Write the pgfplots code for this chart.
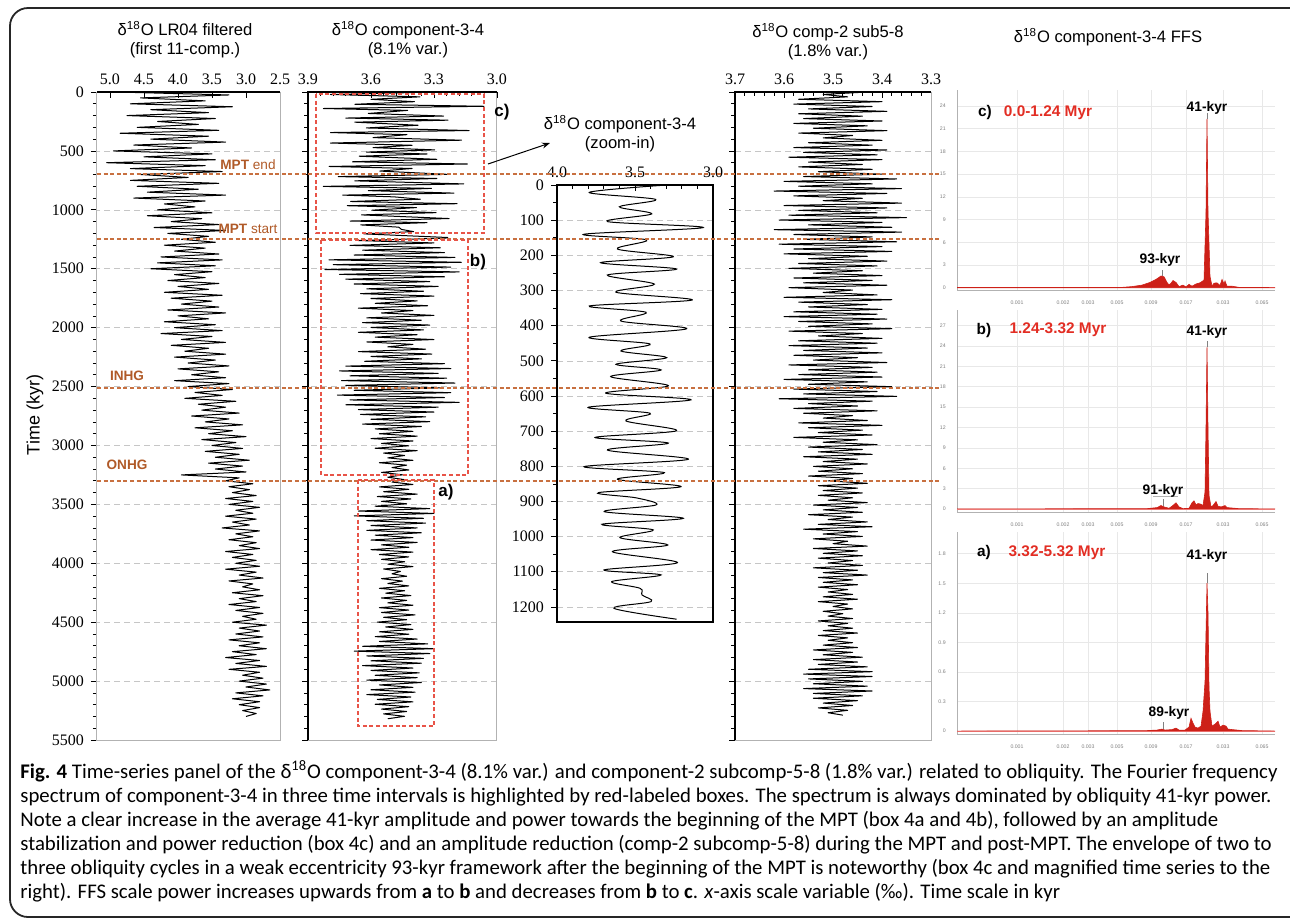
\documentclass[border=0pt]{standalone}
\usepackage{pgfplots}
\pgfplotsset{compat=1.18}
\usepackage{pgfplotstable}
\usetikzlibrary{arrows.meta}
\usepackage{fontspec}
\setmainfont{Liberation Sans}
\newfontfamily\seriffont{Liberation Serif}
\newfontfamily\capfont{Carlito}
\definecolor{mptc}{RGB}{200,112,64}
\definecolor{mpttxt}{RGB}{176,90,40}
\definecolor{boxred}{RGB}{232,84,72}
\definecolor{specred}{RGB}{205,32,24}
\definecolor{labred}{RGB}{226,45,35}

% LR04 filtered, step 25 kyr from 0
\pgfplotstableread[row sep=\\,header=false]{
4.90\\3.25\\4.55\\3.60\\4.70\\3.20\\4.40\\3.55\\
4.75\\3.45\\4.30\\3.70\\4.60\\3.40\\4.85\\3.55\\
4.40\\3.30\\4.65\\3.80\\4.95\\3.50\\4.50\\3.45\\
5.05\\3.60\\4.70\\3.35\\4.55\\3.85\\4.70\\3.40\\
4.60\\3.70\\4.45\\3.30\\4.65\\3.60\\4.20\\3.75\\
4.30\\3.50\\4.45\\3.65\\4.10\\3.40\\4.35\\3.30\\
4.15\\3.55\\3.95\\3.45\\4.20\\3.60\\4.05\\3.40\\
4.25\\3.35\\4.30\\3.45\\4.40\\3.50\\4.05\\3.60\\
4.15\\3.40\\4.00\\3.55\\4.20\\3.35\\4.10\\3.50\\
3.95\\3.40\\4.15\\3.30\\4.00\\3.55\\4.20\\3.45\\
4.05\\3.35\\4.25\\3.50\\3.95\\3.30\\4.10\\3.55\\
3.90\\3.30\\4.05\\3.45\\3.85\\3.25\\4.00\\3.40\\
3.80\\3.30\\4.05\\3.25\\3.85\\3.20\\3.75\\3.35\\
3.90\\3.15\\3.70\\3.30\\3.65\\3.10\\3.80\\3.25\\
3.60\\3.05\\3.75\\3.20\\3.55\\3.00\\3.65\\3.15\\
3.50\\3.05\\3.60\\3.10\\3.45\\2.95\\3.55\\3.05\\
3.45\\3.00\\3.95\\3.10\\3.30\\2.90\\3.25\\2.95\\
3.20\\2.85\\3.30\\2.90\\3.25\\2.80\\3.15\\2.90\\
3.30\\2.85\\3.20\\2.95\\3.35\\2.80\\3.15\\2.90\\
3.25\\2.85\\3.10\\2.80\\3.30\\2.90\\3.20\\2.85\\
3.15\\2.80\\3.30\\2.85\\3.10\\2.75\\3.25\\2.90\\
3.05\\2.80\\3.20\\2.75\\3.10\\2.85\\3.25\\2.80\\
3.15\\2.75\\3.05\\2.85\\3.20\\2.70\\3.10\\2.80\\
3.15\\2.75\\3.25\\2.80\\3.10\\2.70\\3.20\\2.85\\
3.30\\2.80\\3.15\\2.70\\3.25\\2.80\\3.05\\2.75\\
3.10\\2.70\\3.00\\2.65\\3.15\\2.75\\3.20\\2.80\\
3.10\\2.80\\3.05\\2.85\\3.00\\
}\lrtab

% component-3-4, step 20.5 kyr from 1240
\pgfplotstableread[row sep=\\,header=false]{
3.24\\3.66\\3.30\\3.70\\3.27\\3.64\\3.25\\3.68\\
3.20\\3.80\\3.17\\3.78\\3.22\\3.82\\3.18\\3.75\\3.25\\3.72\\
3.32\\3.68\\3.28\\3.62\\3.35\\3.65\\3.30\\3.60\\3.38\\3.58\\3.33\\3.66\\3.40\\3.55\\3.30\\3.62\\3.36\\3.64\\3.32\\3.60\\3.35\\3.66\\
3.38\\3.58\\3.30\\3.62\\3.40\\3.52\\3.34\\3.66\\3.31\\3.60\\3.36\\3.63\\
3.25\\3.72\\3.22\\3.75\\3.28\\3.70\\3.24\\3.74\\3.20\\3.72\\3.26\\3.68\\3.22\\3.76\\3.25\\3.70\\3.18\\3.72\\3.28\\3.66\\
3.30\\3.65\\3.34\\3.60\\3.32\\3.64\\3.36\\3.58\\3.40\\3.56\\
3.38\\3.60\\3.40\\3.55\\3.42\\3.58\\3.38\\3.54\\3.44\\3.52\\3.40\\3.56\\3.43\\3.50\\3.42\\3.55\\3.45\\3.52\\3.44\\3.50\\
3.40\\3.56\\3.42\\3.54\\3.38\\3.57\\3.41\\3.55\\3.43\\3.58\\
3.32\\3.66\\3.30\\3.68\\3.35\\3.62\\3.34\\3.60\\3.38\\3.62\\
3.36\\3.58\\3.40\\3.60\\3.38\\3.55\\3.42\\3.60\\3.40\\3.56\\
3.42\\3.55\\3.44\\3.52\\3.40\\3.54\\3.46\\3.50\\3.43\\3.55\\3.45\\3.52\\3.42\\3.56\\3.44\\3.53\\3.41\\3.55\\3.43\\3.52\\
3.40\\3.56\\3.42\\3.55\\3.39\\3.54\\3.43\\3.57\\3.41\\3.53\\3.40\\3.56\\3.42\\3.58\\3.38\\3.56\\
3.33\\3.64\\3.30\\3.68\\3.32\\3.62\\3.35\\3.60\\3.36\\3.64\\
3.40\\3.60\\3.37\\3.58\\3.38\\3.62\\3.36\\3.56\\3.40\\3.60\\3.39\\3.62\\3.41\\3.57\\3.40\\3.58\\3.42\\3.55\\3.43\\3.54\\3.44\\3.52\\
}\cbtab

% comp-2 sub5-8, step 20.5 kyr from 0
\pgfplotstableread[row sep=\\,header=false]{
3.43\\3.52\\3.47\\3.57\\3.40\\3.58\\3.42\\3.55\\3.39\\3.57\\3.44\\3.56\\3.40\\3.58\\3.43\\3.54\\3.39\\3.57\\3.46\\3.52\\3.40\\3.55\\3.42\\3.58\\
3.39\\3.56\\3.41\\3.59\\3.40\\3.55\\3.44\\3.57\\3.42\\3.53\\3.40\\3.56\\
3.37\\3.60\\3.42\\3.57\\3.36\\3.62\\3.39\\3.58\\3.44\\3.52\\3.36\\3.60\\3.39\\3.57\\3.41\\3.59\\3.35\\3.61\\3.40\\3.55\\3.38\\3.62\\3.36\\3.58\\3.42\\3.56\\3.37\\3.61\\
3.40\\3.58\\3.38\\3.60\\3.43\\3.55\\3.39\\3.57\\3.41\\3.59\\3.44\\3.54\\3.40\\3.58\\3.42\\3.56\\3.39\\3.59\\3.46\\3.52\\3.41\\3.60\\3.38\\3.57\\3.43\\3.55\\3.40\\3.58\\3.41\\3.60\\3.39\\3.57\\3.42\\3.55\\3.38\\3.59\\
3.44\\3.53\\3.40\\3.57\\3.41\\3.59\\3.43\\3.56\\3.40\\3.58\\3.45\\3.54\\3.39\\3.59\\3.42\\3.55\\3.41\\3.57\\3.40\\3.60\\3.43\\3.55\\3.38\\3.58\\3.41\\3.56\\3.37\\3.61\\
3.42\\3.55\\3.45\\3.58\\3.41\\3.56\\3.46\\3.52\\3.43\\3.57\\3.40\\3.55\\3.44\\3.53\\3.42\\3.58\\3.45\\3.52\\3.41\\3.55\\3.44\\3.53\\3.42\\3.56\\
3.45\\3.52\\3.43\\3.54\\3.46\\3.53\\3.44\\3.55\\3.46\\3.51\\3.43\\3.53\\3.45\\3.52\\
3.44\\3.53\\3.46\\3.51\\3.43\\3.54\\3.45\\3.52\\3.44\\3.55\\3.46\\3.51\\3.43\\3.53\\3.42\\3.56\\3.45\\3.52\\3.44\\3.54\\3.47\\3.50\\3.43\\3.54\\3.45\\3.52\\3.44\\3.53\\3.46\\3.51\\3.44\\3.54\\3.45\\3.52\\3.43\\3.53\\
3.46\\3.52\\3.45\\3.53\\3.47\\3.51\\3.46\\3.52\\3.45\\3.53\\3.47\\3.50\\3.46\\3.52\\3.48\\3.51\\3.46\\3.53\\3.47\\3.51\\3.46\\3.52\\3.45\\3.53\\3.47\\3.51\\3.46\\3.52\\3.45\\3.54\\3.46\\3.52\\3.44\\3.54\\3.45\\3.53\\3.43\\3.55\\3.42\\3.56\\
3.42\\3.55\\3.44\\3.54\\3.43\\3.56\\3.42\\3.54\\3.44\\
3.54\\3.45\\3.52\\3.46\\3.53\\3.47\\3.51\\3.48\\
}\cctab

\def\zoomdata{(3.297,0)(3.793,21)(3.367,41)(3.600,62)(3.393,82)(3.677,104)(3.062,121)(3.827,140)(3.425,156)(3.613,182)(3.254,204)(3.720,221)(3.233,239)(3.677,256)(3.376,282)(3.622,305)(3.133,327)(3.793,344)(3.429,362)(3.590,387)(3.169,409)(3.793,433)(3.404,452)(3.590,472)(3.297,491)(3.622,510)(3.333,526)(3.656,545)(3.286,571)(3.688,592)(3.141,611)(3.799,632)(3.404,649)(3.558,671)(3.233,699)(3.756,718)(3.286,734)(3.677,754)(3.158,780)(3.827,801)(3.312,818)(3.613,837)(3.205,858)(3.735,875)(3.490,890)(3.365,910)(3.697,929)(3.190,948)(3.713,965)(3.383,981)(3.596,1003)(3.290,1024)(3.645,1043)(3.228,1074)(3.699,1095)(3.333,1109)(3.649,1128)(3.468,1147)(3.455,1166)(3.397,1185)(3.635,1204)(3.233,1235)}

\pgfplotsset{
  ts/.style={scale only axis, anchor=north west, height=324pt,
    y dir=reverse, x dir=reverse, ymin=0, ymax=5500,
    ytick={0,500,...,5500}, minor y tick num=4, ytick pos=left,
    xtick pos=right, xticklabel pos=right,
    ymajorgrids, major grid style={densely dashed, gray!45, line width=0.3pt},
    axis line style={gray!60, line width=0.5pt},
    tick style={black, line width=0.35pt},
    major tick length=3pt, minor tick length=2pt,
    xtick align=inside, ytick align=outside,
    every tick label/.append style={font=\seriffont\fontsize{8}{9}\selectfont},
    /pgf/number format/assume math mode=true,
    /pgf/number format/1000 sep={},
    xticklabel style={/pgf/number format/.cd, fixed, fixed zerofill, precision=1},
  },
  spec/.style={scale only axis, anchor=north west, width=159pt,
    xmin=0, xmax=318, axis lines=left, axis line style={gray!60, -, line width=0.4pt},
    xtick={60,106,131,160,194,229,266,305},
    xticklabels={0.001,0.002,0.003,0.005,0.009,0.017,0.033,0.065},
    grid=major, major grid style={gray!18, line width=0.3pt},
    tick style={draw=none},
    tick label style={font=\fontsize{2.6}{3}\selectfont, text=gray},
    /pgf/number format/assume math mode=true,
    yticklabel style={/pgf/number format/fixed},
  },
}

\begin{document}
\begin{tikzpicture}
\useasboundingbox (0pt,0pt) rectangle (645pt,-461.5pt);
\draw[line width=0.9pt, black!85, rounded corners=9pt] (5pt,-4pt) rectangle (655pt,-458.5pt);

% Panel 1: LR04 filtered
\begin{axis}[ts, width=91.5pt, at={(48.5pt,-46pt)}, xmin=2.5, xmax=5.191,
  xtick={2.5,3.0,...,5.0}]
\addplot[black, line width=0.5pt, line join=round] table[x index=0, y index=0, y expr=\coordindex*25] {\lrtab};
\end{axis}

% Panel 2: component-3-4
\begin{axis}[ts, width=94.5pt, at={(154pt,-46pt)}, xmin=3.0, xmax=3.9,
  xtick={3.0,3.3,3.6,3.9}, minor x tick num=4, yticklabels={}]
\addplot[black, line width=0.5pt, line join=round] coordinates {\zoomdata};
\addplot[black, line width=0.5pt, line join=round] table[x index=0, y index=0, y expr=1240+\coordindex*20.5] {\cbtab};
\end{axis}

% Panel 3: zoom-in
\begin{axis}[scale only axis, anchor=north west, width=78pt, height=218.5pt,
  at={(278.5pt,-92.5pt)}, x dir=reverse, y dir=reverse,
  xmin=3.0, xmax=4.0, ymin=0, ymax=1243,
  xtick={3.0,3.5,4.0}, minor x tick num=4, xtick pos=right, xticklabel pos=right,
  ytick={0,100,...,1200}, minor y tick num=1, ytick pos=left,
  ymajorgrids, major grid style={densely dashed, gray!45, line width=0.3pt},
  axis line style={black, line width=0.6pt},
  tick style={black, line width=0.35pt},
  major tick length=3pt, minor tick length=2pt,
  xtick align=inside, ytick align=outside,
  every tick label/.append style={font=\seriffont\fontsize{8}{9}\selectfont},
  /pgf/number format/assume math mode=true,
  /pgf/number format/1000 sep={},
  xticklabel style={/pgf/number format/.cd, fixed, fixed zerofill, precision=1}]
\addplot[black, line width=0.5pt, smooth, tension=0.55] coordinates {\zoomdata};
\end{axis}

% Panel 4: comp-2 sub5-8
\begin{axis}[ts, width=98pt, at={(367.5pt,-46pt)}, xmin=3.3, xmax=3.7,
  xtick={3.3,3.4,...,3.7}, minor x tick num=4, yticklabels={}]
\addplot[black, line width=0.5pt, line join=round] table[x index=0, y index=0, y expr=\coordindex*20.5] {\cctab};
\end{axis}

% black frame lines
\draw[black, line width=0.6pt] (48.5pt,-46pt) -- (140pt,-46pt);
\draw[black, line width=0.8pt] (154pt,-370pt) -- (154pt,-46pt) -- (248.5pt,-46pt);
\draw[black, line width=0.8pt] (367.5pt,-370pt) -- (367.5pt,-46pt) -- (465.5pt,-46pt);

% Spectrum c
\begin{axis}[spec, height=100pt, at={(478.5pt,-45pt)}, ymin=-0.3, ymax=26.1, ytick={0,3,...,24}]
\draw[red!35, line width=0.4pt] (axis cs:0,0) -- (axis cs:318,0);
\addplot[fill=specred, draw=specred, line width=0.3pt] coordinates {(0,0.05)(100,0.05)(165,0.05)(175,0.15)(185,0.35)(193,0.7)(199,1.1)(204,1.55)(207,1.45)(210,0.7)(212,0.35)(214,0.6)(216,0.95)(219,0.7)(222,0.15)(226,0.35)(229,0.1)(232,0.45)(235,0.2)(239,0.5)(243,0.65)(247,1.0)(249,10)(250,22.3)(251,10)(253,1.5)(255,0.2)(257,0.6)(260,0.65)(263,0.3)(265,1.1)(267,0.5)(268,0.9)(270,0.2)(275,0.2)(282,0.05)(318,0.02)} \closedcycle;
\draw[gray, line width=0.3pt] (axis cs:250,22.3) -- (axis cs:250,23.0);
\draw[gray, line width=0.3pt] (axis cs:205,1.55) -- (axis cs:205,2.4);
\end{axis}

% Spectrum b
\begin{axis}[spec, height=101pt, at={(478.5pt,-155pt)}, ymin=-0.45, ymax=29.3, ytick={0,3,...,27}]
\draw[red!35, line width=0.4pt] (axis cs:0,0) -- (axis cs:318,0);
\addplot[fill=specred, draw=specred, line width=0.3pt] coordinates {(0,0)(190,0.05)(200,0.2)(204,0.5)(207,0.3)(212,0.1)(215,0.4)(219,0.9)(222,0.3)(226,0.05)(232,0.1)(235,0.9)(237,1.2)(239,0.6)(241,0.8)(244,0.7)(246,0.5)(248,2.5)(249,12)(250,23.8)(251,12)(252,2)(254,0.3)(256,0.5)(259,1.1)(261,0.4)(264,0.3)(268,0.5)(270,0.2)(274,0.15)(282,0.05)(318,0)} \closedcycle;
\draw[gray, line width=0.3pt] (axis cs:250,23.8) -- (axis cs:250,24.8);
\draw[gray, line width=0.3pt] (axis cs:206,0.5) -- (axis cs:206,1.5);
\draw[gray!60, line width=0.3pt] (axis cs:196,1.8) -- (axis cs:221,1.8);
\end{axis}

% Spectrum a
\begin{axis}[spec, height=101pt, at={(478.5pt,-266pt)}, ymin=-0.03, ymax=2.02, ytick={0,0.3,...,1.8}]
\draw[red!35, line width=0.4pt] (axis cs:0,0) -- (axis cs:318,0);
\addplot[fill=specred, draw=specred, line width=0.3pt] coordinates {(0,0)(150,0.003)(190,0.005)(200,0.01)(205,0.02)(208,0.01)(215,0.015)(219,0.03)(222,0.01)(228,0.01)(232,0.04)(234,0.13)(236,0.08)(238,0.04)(241,0.03)(244,0.05)(246,0.2)(248,0.5)(249,1.0)(250,1.5)(251,1.2)(252,0.45)(253,0.2)(255,0.05)(258,0.07)(261,0.1)(263,0.04)(266,0.06)(269,0.05)(271,0.02)(275,0.015)(285,0.005)(318,0)} \closedcycle;
\draw[gray, line width=0.3pt] (axis cs:250,1.5) -- (axis cs:250,1.6);
\draw[gray, line width=0.3pt] (axis cs:206,0.02) -- (axis cs:206,0.09);
\end{axis}

% horizontal event lines
\foreach \yy in {-87pt,-119.5pt,-194pt,-240.5pt}
  \draw[mptc, line width=0.55pt, dash pattern=on 2pt off 1.3pt] (48.5pt,\yy) -- (470pt,\yy);

% red boxes
\draw[boxred, line width=0.6pt, dash pattern=on 2pt off 1.3pt] (158pt,-47pt) rectangle (242pt,-116.5pt);
\draw[boxred, line width=0.6pt, dash pattern=on 2pt off 1.3pt] (160.5pt,-120pt) rectangle (234pt,-237.5pt);
\draw[boxred, line width=0.6pt, dash pattern=on 2pt off 1.3pt] (179pt,-240pt) rectangle (217pt,-363pt);
\node[font=\bfseries\fontsize{8.5}{9}\selectfont] at (251pt,-56pt) {c)};
\node[font=\bfseries\fontsize{8.5}{9}\selectfont] at (239pt,-131pt) {b)};
\node[font=\bfseries\fontsize{8.5}{9}\selectfont] at (223pt,-246pt) {a)};

% arrow
\draw[black, line width=0.5pt, -{Stealth[length=4pt,width=3pt]}] (244pt,-82pt) -- (275pt,-71.5pt);

% titles
\node[align=center, font=\fontsize{8.3}{9.6}\selectfont] at (92.5pt,-20pt) {δ\textsuperscript{18}O LR04 filtered\\(first 11-comp.)};
\node[align=center, font=\fontsize{8.3}{9.6}\selectfont] at (204pt,-20pt) {δ\textsuperscript{18}O component-3-4\\(8.1\% var.)};
\node[align=center, font=\fontsize{8.3}{9.6}\selectfont] at (310pt,-67pt) {δ\textsuperscript{18}O component-3-4\\(zoom-in)};
\node[align=center, font=\fontsize{8.3}{9.6}\selectfont] at (414pt,-21pt) {δ\textsuperscript{18}O comp-2 sub5-8\\(1.8\% var.)};
\node[font=\fontsize{8.3}{9.6}\selectfont] at (554pt,-18.5pt) {δ\textsuperscript{18}O component-3-4 FFS};
\node[rotate=90, font=\fontsize{9}{10}\selectfont] at (17.5pt,-207.5pt) {Time (kyr)};

% event labels
\node[text=mpttxt, font=\fontsize{6.8}{8}\selectfont] at (124pt,-82.5pt) {\textbf{MPT} end};
\node[text=mpttxt, font=\fontsize{6.8}{8}\selectfont] at (124pt,-114.5pt) {\textbf{MPT} start};
\node[text=mpttxt, font=\bfseries\fontsize{6.8}{8}\selectfont] at (63.5pt,-188pt) {INHG};
\node[text=mpttxt, font=\bfseries\fontsize{6.8}{8}\selectfont] at (63.5pt,-232.5pt) {ONHG};

% spectrum labels
\node[font=\bfseries\fontsize{7.7}{9}\selectfont] at (492.5pt,-56.5pt) {c)};
\node[text=labred, font=\bfseries\fontsize{7.7}{9}\selectfont] at (524pt,-56.5pt) {0.0-1.24 Myr};
\node[font=\bfseries\fontsize{6.9}{8}\selectfont] at (603.5pt,-54pt) {41-kyr};
\node[font=\bfseries\fontsize{6.9}{8}\selectfont] at (580pt,-130pt) {93-kyr};
\node[font=\bfseries\fontsize{7.7}{9}\selectfont] at (492pt,-165.5pt) {b)};
\node[text=labred, font=\bfseries\fontsize{7.7}{9}\selectfont] at (529pt,-165pt) {1.24-3.32 Myr};
\node[font=\bfseries\fontsize{6.9}{8}\selectfont] at (603.5pt,-166pt) {41-kyr};
\node[font=\bfseries\fontsize{6.9}{8}\selectfont] at (581.5pt,-245.5pt) {91-kyr};
\node[font=\bfseries\fontsize{7.7}{9}\selectfont] at (492pt,-276.5pt) {a)};
\node[text=labred, font=\bfseries\fontsize{7.7}{9}\selectfont] at (528.5pt,-276.5pt) {3.32-5.32 Myr};
\node[font=\bfseries\fontsize{6.9}{8}\selectfont] at (603.5pt,-278pt) {41-kyr};
\node[font=\bfseries\fontsize{6.9}{8}\selectfont] at (584.5pt,-356.5pt) {89-kyr};

% caption
\begin{scope}[every node/.style={anchor=base west, inner sep=0pt, font=\capfont\fontsize{10.4}{12}\selectfont}]
\node at (10pt,-389pt) {\textbf{Fig. 4} Time-series panel of the δ\textsuperscript{18}O component-3-4 (8.1\% var.) and component-2 subcomp-5-8 (1.8\% var.) related to obliquity. The Fourier frequency};
\node at (10pt,-401pt) {spectrum of component-3-4 in three time intervals is highlighted by red-labeled boxes. The spectrum is always dominated by obliquity 41-kyr power.};
\node at (10pt,-413pt) {Note a clear increase in the average 41-kyr amplitude and power towards the beginning of the MPT (box 4a and 4b), followed by an amplitude};
\node at (10pt,-425pt) {stabilization and power reduction (box 4c) and an amplitude reduction (comp-2 subcomp-5-8) during the MPT and post-MPT. The envelope of two to};
\node at (10pt,-437pt) {three obliquity cycles in a weak eccentricity 93-kyr framework after the beginning of the MPT is noteworthy (box 4c and magnified time series to the};
\node at (10pt,-449pt) {right). FFS scale power increases upwards from \textbf{a} to \textbf{b} and decreases from \textbf{b} to \textbf{c}. \textit{x}-axis scale variable (‰). Time scale in kyr};
\end{scope}
\end{tikzpicture}
\end{document}
